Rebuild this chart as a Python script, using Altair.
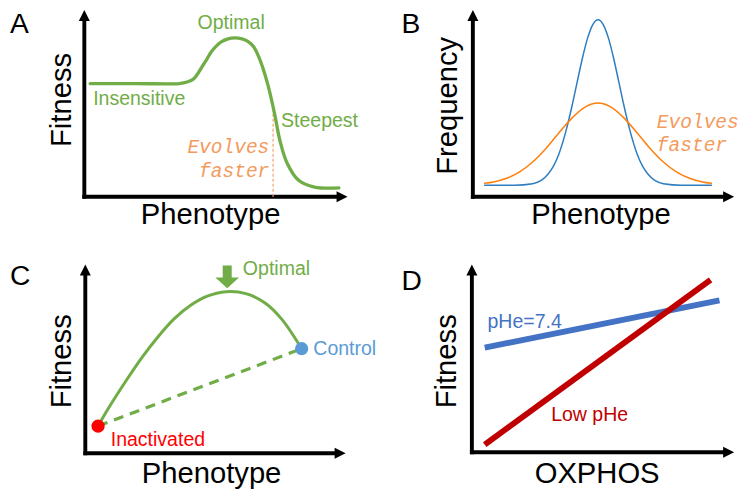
import altair as alt
import pandas as pd

# ---------------- data (panel units: 0-10 on both axes of every panel) -------------
# A: fitness landscape
a_pheno = [0.22, 1.93, 3.61, 3.90, 4.16, 4.42, 4.65, 4.83, 5.02, 5.20, 5.46, 5.72, 5.99,
           6.21, 6.43, 6.65, 6.95, 7.21, 7.43, 7.70, 8.14, 8.74, 9.67]
a_fitness = [6.06, 6.06, 6.06, 6.14, 6.32, 6.84, 7.36, 7.77, 8.08, 8.29, 8.45, 8.50, 8.45,
             8.32, 8.03, 7.41, 6.11, 4.56, 3.01, 1.81, 0.88, 0.52, 0.47]
a_steepest_pheno = 7.17
a_steepest_fitness = 4.66

# B: phenotype distributions
b_narrow_pheno = [0.45, 1.59, 2.29, 2.89, 3.29, 3.59, 3.79, 3.99, 4.19, 4.39, 4.59, 4.79,
                  4.99, 5.19, 5.39, 5.59, 5.79, 5.99, 6.29, 6.69, 7.29, 7.99, 9.13]
b_narrow_freq = [0.62, 0.62, 0.70, 1.23, 2.28, 3.66, 4.83, 6.12, 7.40, 8.49, 9.22, 9.48,
                 9.22, 8.49, 7.40, 6.12, 4.83, 3.66, 2.28, 1.23, 0.70, 0.62, 0.62]
b_wide_pheno = [0.45, 0.79, 1.29, 1.79, 2.29, 2.79, 3.29, 3.79, 4.29, 4.79, 5.29, 5.79,
                6.29, 6.79, 7.29, 7.79, 8.29, 8.79, 9.13]
b_wide_freq = [0.72, 0.79, 0.99, 1.33, 1.86, 2.57, 3.41, 4.21, 4.80, 5.02, 4.80, 4.21,
               3.41, 2.57, 1.86, 1.33, 0.99, 0.79, 0.72]

# C: fitness curve with control / inactivated states
c_pheno = [0.49, 0.90, 1.54, 2.18, 2.78, 3.42, 4.06, 4.66, 5.41, 6.17, 6.92, 7.56, 8.31]
c_fitness = [1.44, 2.41, 3.79, 5.08, 6.15, 7.13, 7.85, 8.31, 8.56, 8.46, 7.95, 7.08, 5.54]
c_states = ["Inactivated", "Control"]
c_state_pheno = [0.49, 8.31]
c_state_fitness = [1.44, 5.54]
c_state_colors = ["#FF0000", "#5B9BD5"]

# D: fitness vs OXPHOS
d_series = ["pHe=7.4", "Low pHe"]
d_oxphos = [[0.49, 9.44], [0.49, 9.10]]
d_fitness = [[5.57, 8.09], [0.41, 9.18]]
d_colors = ["#4472C4", "#C00000"]

GREEN = "#70AD47"
ORANGE_TXT = "#F49A5C"

# ---------------- layout helpers -------------
W, H = 733, 483
KX, KY = W / 749, H / 499
FS = (KX + KY) / 2


def X(r):
    return round(r * KX, 2)


def Y(r):
    return round(r * KY, 2)


# panel frames: (y-axis x, x-arrow tip x, x-axis y, y-arrow tip y)
FRAMES = {"A": (78, 347, 195, 2), "B": (475, 742, 195, 2),
          "C": (79, 345, 460, 265), "D": (474, 742, 459, 265)}

ONE = pd.DataFrame({"k": [0]})


def sx(p):
    x0, x1, _, _ = FRAMES[p]
    return alt.Scale(domain=[0, 10], range=[X(x0), X(x1)], nice=False, zero=False)


def sy(p):
    _, _, y0, y1 = FRAMES[p]
    return alt.Scale(domain=[0, 10], range=[Y(y0), Y(y1)], nice=False, zero=False)


def enc(p):
    return dict(x=alt.X("x:Q", scale=sx(p), axis=None),
                y=alt.Y("y:Q", scale=sy(p), axis=None))


def curve(p, xs, ys, color, width, dash=None, interp="monotone", cap="round"):
    kw = dict(color=color, strokeWidth=width, interpolate=interp, strokeCap=cap)
    if dash:
        kw["strokeDash"] = dash
    df = pd.DataFrame({"x": xs, "y": ys})
    return alt.Chart(df).mark_line(**kw).encode(**enc(p))


def axes(p):
    x0, x1, y0, y1 = FRAMES[p]
    lw = 3.9
    yline = alt.Chart(ONE).mark_rule(color="black", strokeWidth=lw, strokeCap="square").encode(
        x=alt.value(X(x0)), y=alt.value(Y(y0)), y2=alt.value(Y(y1) + 9))
    xline = alt.Chart(ONE).mark_rule(color="black", strokeWidth=lw, strokeCap="square").encode(
        y=alt.value(Y(y0)), x=alt.value(X(x0)), x2=alt.value(X(x1) - 9))
    up = alt.Chart(ONE).mark_point(shape="M0,-1L1,1L-1,1Z", filled=True, size=121, color="black",
                                   opacity=1, strokeWidth=0).encode(
        x=alt.value(X(x0)), y=alt.value(Y(y1) + 5.5))
    right = alt.Chart(ONE).mark_point(shape="M1,0L-1,1L-1,-1Z", filled=True, size=121, color="black",
                                      opacity=1, strokeWidth=0).encode(
        x=alt.value(X(x1) - 5.5), y=alt.value(Y(y0)))
    return [yline, xline, up, right]


def label(text, x, y, size, color="black", align="left", angle=0,
          font="Liberation Sans", style="normal"):
    return alt.Chart(ONE).mark_text(text=text, align=align, baseline="middle",
                                    fontSize=round(size * FS, 1), color=color, font=font,
                                    fontStyle=style, angle=angle).encode(
        x=alt.value(X(x)), y=alt.value(Y(y)))


layers = []
for p in "ABCD":
    layers += axes(p)

# ---- Panel A
layers.append(alt.Chart(pd.DataFrame({"x": [a_steepest_pheno], "y": [0.0], "y2": [a_steepest_fitness]}))
              .mark_rule(color="#F4A26E", strokeWidth=1.2, strokeDash=[3, 2])
              .encode(x=alt.X("x:Q", scale=sx("A"), axis=None),
                      y=alt.Y("y:Q", scale=sy("A"), axis=None), y2="y2:Q"))
layers.append(curve("A", a_pheno, a_fitness, GREEN, 3.3, interp="catmull-rom"))

# ---- Panel B
layers.append(curve("B", b_narrow_pheno, b_narrow_freq, "#2E7EC1", 1.5))
layers.append(curve("B", b_wide_pheno, b_wide_freq, "#FF7F0E", 1.5))

# ---- Panel C
layers.append(curve("C", c_state_pheno, c_state_fitness, GREEN, 3.2, dash=[10, 7],
                    interp="linear", cap="butt"))
layers.append(curve("C", c_pheno, c_fitness, GREEN, 3.0, interp="catmull-rom"))
layers.append(alt.Chart(ONE).mark_rule(color=GREEN, strokeWidth=9, strokeCap="butt").encode(
    x=alt.value(X(224)), y=alt.value(Y(266)), y2=alt.value(Y(279))))
layers.append(alt.Chart(ONE).mark_point(shape="M-1,-0.46L1,-0.46L0,0.46Z", filled=True, size=560,
                                         color=GREEN, opacity=1, strokeWidth=0).encode(
    x=alt.value(X(224)), y=alt.value(Y(284))))
layers.append(alt.Chart(pd.DataFrame({"x": c_state_pheno, "y": c_state_fitness, "state": c_states,
                                      "c": c_state_colors}))
              .mark_circle(size=175, opacity=1)
              .encode(**enc("C"), color=alt.Color("c:N", scale=None)))

# ---- Panel D
for i in range(2):
    layers.append(curve("D", d_oxphos[i], d_fitness[i], d_colors[i], 5.9, interp="linear", cap="butt"))

# ---- Labels
# panel letters
layers += [label("A", 2, 18, 29), label("B", 402, 18, 29),
           label("C", 2, 278, 29), label("D", 402, 283, 29)]
# axis titles
layers += [label("Fitness", 55, 95, 30, align="center", angle=270),
           label("Phenotype", 207, 214, 30, align="center"),
           label("Frequency", 450, 101, 30, align="center", angle=270),
           label("Phenotype", 606, 214, 30, align="center"),
           label("Fitness", 55, 365, 30, align="center", angle=270),
           label("Phenotype", 208, 481, 30, align="center"),
           label("Fitness", 449, 365, 30, align="center", angle=270),
           label("OXPHOS", 602, 481, 30, align="center")]
# annotations
layers += [label("Optimal", 228, 16, 20, color=GREEN, align="center"),
           label("Insensitive", 87, 94, 20, color=GREEN),
           label("Steepest", 279, 117, 20, color=GREEN),
           label("Evolves", 267, 144, 20, color=ORANGE_TXT, align="right",
                 font="Liberation Mono", style="italic"),
           label("faster", 267, 168, 20, color=ORANGE_TXT, align="right",
                 font="Liberation Mono", style="italic"),
           label("Evolves", 663, 118, 20, color=ORANGE_TXT, font="Liberation Mono", style="italic"),
           label("faster", 663, 142, 20, color=ORANGE_TXT, font="Liberation Mono", style="italic"),
           label("Optimal", 240, 270, 20, color=GREEN),
           label(c_states[1], 312, 352, 20, color=c_state_colors[1]),
           label(c_states[0], 105, 446, 20, color=c_state_colors[0]),
           label(d_series[0], 490, 324, 20, color=d_colors[0]),
           label(d_series[1], 555, 420, 20, color=d_colors[1])]

chart = (alt.layer(*layers)
         .resolve_scale(x="independent", y="independent")
         .properties(width=W, height=H, padding=0,
                     autosize=alt.AutoSizeParams(type="none"))
         .configure_view(stroke=None))

chart.save("out.html", embed_options={"renderer": "svg", "actions": False})
